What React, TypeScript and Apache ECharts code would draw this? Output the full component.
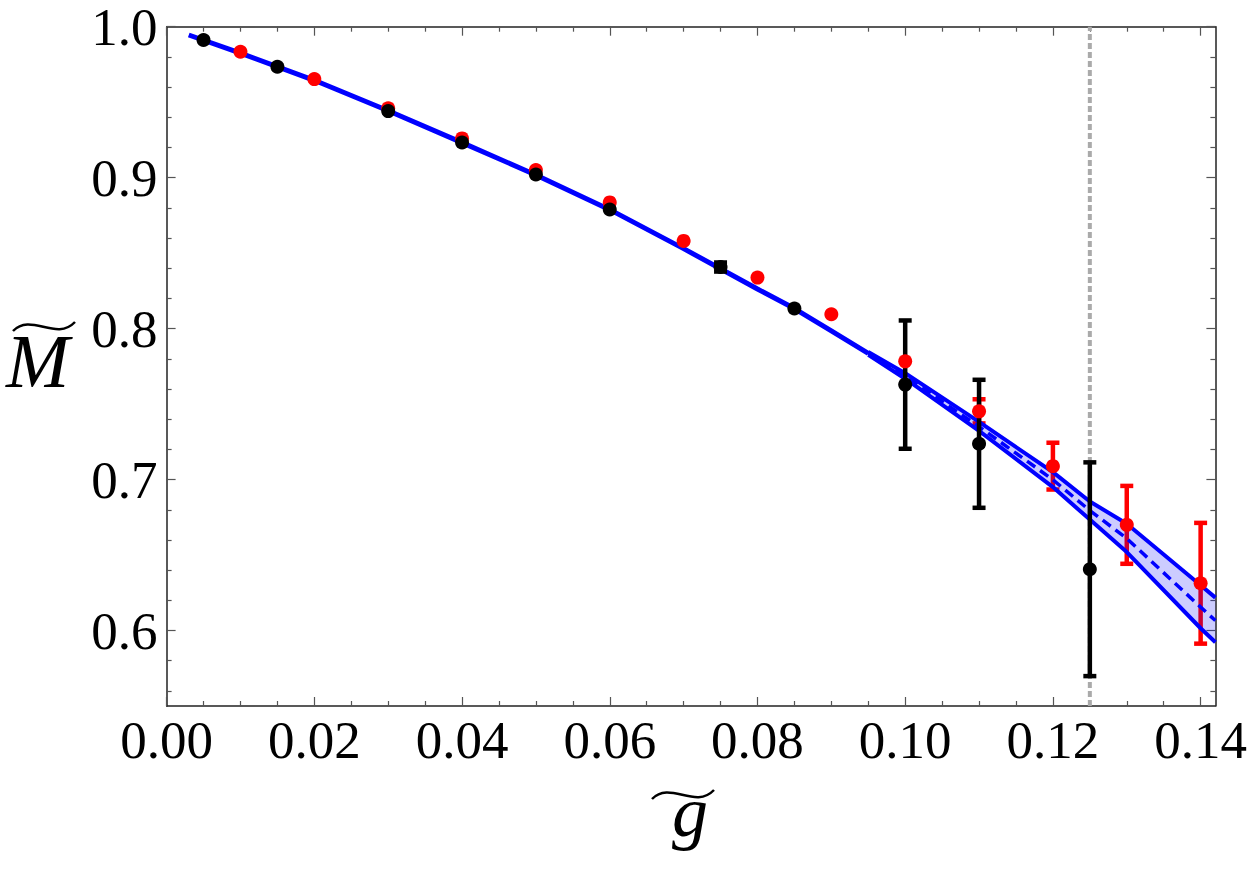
import React, { useEffect, useRef } from "react";
import * as echarts from "echarts";

// ---- axis ranges & ticks ----
const X_MIN = 0;
const X_MAX = 0.142;
const Y_MIN = 0.55;
const Y_MAX = 1.0;
const xMajorTicks = [0, 0.02, 0.04, 0.06, 0.08, 0.1, 0.12, 0.14];
const xMinorTicks = [0.005, 0.01, 0.015, 0.025, 0.03, 0.035, 0.045, 0.05, 0.055, 0.065, 0.07, 0.075, 0.085, 0.09, 0.095, 0.105, 0.11, 0.115, 0.125, 0.13, 0.135];
const yMajorTicks = [0.6, 0.7, 0.8, 0.9, 1.0];
const yMinorTicks = [0.56, 0.58, 0.62, 0.64, 0.66, 0.68, 0.72, 0.74, 0.76, 0.78, 0.82, 0.84, 0.86, 0.88, 0.92, 0.94, 0.96, 0.98];

// ---- data: black points ----
const blackX = [0.005, 0.015, 0.03, 0.04, 0.05, 0.06, 0.075, 0.085, 0.10, 0.11, 0.125];
const blackY = [0.9912, 0.9735, 0.9441, 0.9233, 0.9021, 0.8789, 0.8408, 0.8133, 0.7629, 0.7237, 0.6406];
const blackErr = [0, 0, 0, 0, 0, 0, 0.003, 0, 0.0425, 0.0424, 0.0708];

// ---- data: red points ----
const redX = [0.01, 0.02, 0.03, 0.04, 0.05, 0.06, 0.07, 0.08, 0.09, 0.10, 0.11, 0.12, 0.13, 0.14];
const redY = [0.9834, 0.9653, 0.9459, 0.926, 0.905, 0.8836, 0.8581, 0.8338, 0.8095, 0.7783, 0.7452, 0.7089, 0.670, 0.6313];
const redErr = [0, 0, 0, 0, 0, 0, 0, 0, 0, 0, 0.008, 0.0155, 0.0258, 0.040];

// ---- fit curve (solid part) ----
const fitX = [0.003, 0.01, 0.02, 0.03, 0.04, 0.05, 0.06, 0.07, 0.08, 0.085, 0.09, 0.095];
const fitY = [0.9945, 0.9825, 0.9645, 0.9443, 0.9232, 0.9018, 0.8788, 0.8530, 0.8262, 0.8133, 0.7985, 0.7836];

// ---- extrapolation band ----
const bandX = [0.095, 0.10, 0.11, 0.12, 0.125, 0.13, 0.14, 0.142];
const bandUpper = [0.7846, 0.7705, 0.7382, 0.7049, 0.6855, 0.6707, 0.6300, 0.6218];
const bandCenter = [0.7836, 0.7686, 0.7350, 0.6999, 0.6795, 0.6610, 0.6155, 0.6066];
const bandLower = [0.7826, 0.7668, 0.7322, 0.6950, 0.6735, 0.6520, 0.6015, 0.5922];

const VLINE_X = 0.125;

const BLUE = "#0000ff";
const TICK_FONT = "'Liberation Serif', serif";

const zip = (xs: number[], ys: number[]) => xs.map((x, i) => [x, ys[i]]);

function xAxisCfg(position: "top" | "bottom", ticks: number[], len: number, main: boolean, labels: boolean) {
  return {
    type: "value",
    position,
    min: X_MIN,
    max: X_MAX,
    splitLine: { show: false },
    axisLine: { show: main, onZero: false, lineStyle: { color: "#222", width: 1.5 } },
    axisTick: { show: true, inside: true, length: len, customValues: ticks, lineStyle: { color: "#555", width: 1.2 } },
    axisLabel: labels
      ? { show: true, customValues: ticks, margin: 14, lineHeight: 40, formatter: (v: number) => v.toFixed(2), color: "#000", fontFamily: TICK_FONT, fontSize: 53 }
      : { show: false },
  };
}

function yAxisCfg(position: "left" | "right", ticks: number[], len: number, main: boolean, labels: boolean) {
  return {
    type: "value",
    position,
    min: Y_MIN,
    max: Y_MAX,
    splitLine: { show: false },
    axisLine: { show: main, onZero: false, lineStyle: { color: "#222", width: 1.5 } },
    axisTick: { show: true, inside: true, length: len, customValues: ticks, lineStyle: { color: "#555", width: 1.2 } },
    axisLabel: labels
      ? { show: true, customValues: ticks, margin: 9, lineHeight: 40, formatter: (v: number) => v.toFixed(1), color: "#000", fontFamily: TICK_FONT, fontSize: 53 }
      : { show: false },
  };
}

const errRender = (color: string) => (params: any, api: any) => {
  const x = api.value(0);
  const lo = api.value(1);
  const hi = api.value(2);
  const top = api.coord([x, hi]);
  const bot = api.coord([x, lo]);
  const hw = 6.5;
  const st = { stroke: color, lineWidth: 4.5 };
  return {
    type: "group",
    children: [
      { type: "line", shape: { x1: top[0], y1: top[1], x2: bot[0], y2: bot[1] }, style: st },
      { type: "line", shape: { x1: top[0] - hw, y1: top[1], x2: top[0] + hw, y2: top[1] }, style: st },
      { type: "line", shape: { x1: bot[0] - hw, y1: bot[1], x2: bot[0] + hw, y2: bot[1] }, style: st },
    ],
  };
};

const bandRender = (params: any, api: any) => {
  const pts: number[][] = [];
  bandX.forEach((x, i) => pts.push(api.coord([x, bandUpper[i]])));
  for (let i = bandX.length - 1; i >= 0; i--) pts.push(api.coord([bandX[i], bandLower[i]]));
  return { type: "polygon", shape: { points: pts }, style: { fill: "rgba(0,0,255,0.2)", stroke: "none" } };
};

export default function App() {
  const ref = useRef<HTMLDivElement>(null);
  useEffect(() => {
    if (!ref.current) return;
    const chart = echarts.init(ref.current, undefined, { renderer: "svg" });
    const errData = (xs: number[], ys: number[], es: number[]) =>
      xs.map((x, i) => [x, ys[i] - es[i], ys[i] + es[i]]).filter((_, i) => es[i] > 0);
    const lineBase = { type: "line", symbol: "none", silent: true, xAxisIndex: 0, yAxisIndex: 0 };
    chart.setOption({
      animation: false,
      backgroundColor: "#ffffff",
      grid: { left: 166.6, right: 33.3, top: 26.7, bottom: 163, containLabel: false },
      xAxis: [
        xAxisCfg("bottom", xMajorTicks, 9, true, true),
        xAxisCfg("bottom", xMinorTicks, 5, false, false),
        xAxisCfg("top", xMajorTicks, 9, true, false),
        xAxisCfg("top", xMinorTicks, 5, false, false),
      ],
      yAxis: [
        yAxisCfg("left", yMajorTicks, 9, true, true),
        yAxisCfg("left", yMinorTicks, 5, false, false),
        yAxisCfg("right", yMajorTicks, 9, true, false),
        yAxisCfg("right", yMinorTicks, 5, false, false),
      ],
      graphic: [
        { type: "text", x: 6, y: 361, style: { text: "M", font: "italic 76px 'Liberation Serif', serif", fill: "#000", align: "left", verticalAlign: "middle" } },
        { type: "bezierCurve", shape: { x1: 13, y1: 331, cpx1: 31, cpy1: 312, cpx2: 56, cpy2: 342, x2: 75, y2: 322 }, style: { stroke: "#000", lineWidth: 2.5, fill: null } },
        { type: "text", x: 690, y: 812, style: { text: "g", font: "italic 72px 'Liberation Serif', serif", fill: "#000", align: "center", verticalAlign: "middle" } },
        { type: "bezierCurve", shape: { x1: 652, y1: 799, cpx1: 670, cpy1: 780, cpx2: 695, cpy2: 810, x2: 714, y2: 790 }, style: { stroke: "#000", lineWidth: 2.5, fill: null } },
      ],
      series: [
        { ...lineBase, data: [[VLINE_X, Y_MIN], [VLINE_X, Y_MAX]], lineStyle: { color: "#aaaaaa", width: 4, type: [6, 3] }, z: 1 },
        { type: "custom", renderItem: errRender("#ff0000"), data: errData(redX, redY, redErr), encode: { x: 0, y: [1, 2] }, z: 2, silent: true },
        { type: "custom", renderItem: bandRender, data: [[0.12, 0.7]], encode: { x: 0, y: 1 }, z: 3, silent: true },
        { ...lineBase, data: zip(bandX, bandUpper), lineStyle: { color: BLUE, width: 4 }, z: 4 },
        { ...lineBase, data: zip(bandX, bandLower), lineStyle: { color: BLUE, width: 4 }, z: 4 },
        { ...lineBase, data: zip(bandX, bandCenter), lineStyle: { color: BLUE, width: 3.5, type: [10, 6] }, z: 4 },
        { ...lineBase, data: zip(fitX, fitY), lineStyle: { color: BLUE, width: 5 }, z: 4 },
        { type: "custom", renderItem: errRender("#000000"), data: errData(blackX, blackY, blackErr), encode: { x: 0, y: [1, 2] }, z: 5, silent: true },
        { type: "scatter", data: zip(redX, redY), symbolSize: 14, itemStyle: { color: "#ff0000", opacity: 1 }, z: 6, silent: true },
        { type: "scatter", data: zip(blackX, blackY), symbolSize: 14, itemStyle: { color: "#000000", opacity: 1 }, z: 7, silent: true },
      ],
    });
    return () => chart.dispose();
  }, []);
  return <div ref={ref} style={{ position: "fixed", left: 0, top: 0, width: 1250, height: 869, background: "#fff" }} />;
}
